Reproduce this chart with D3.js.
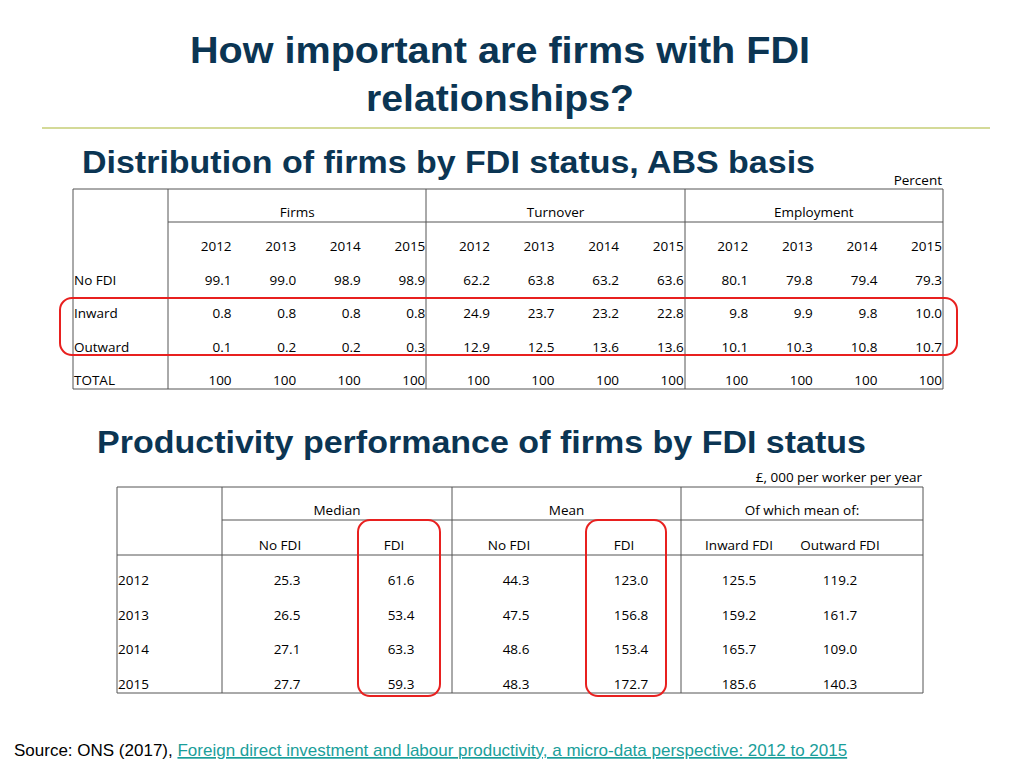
<!DOCTYPE html><html><head><meta charset="utf-8">
<script src="https://cdn.jsdelivr.net/npm/d3@7"></script>
<style>body{margin:0;background:#fff}</style></head><body>
<svg id="c" width="1024" height="768"></svg>
<script>
const years=["2012","2013","2014","2015"];
const groups1=["Firms","Turnover","Employment"];
const rows1=["No FDI","Inward","Outward","TOTAL"];
const firms=[[99.1,99.0,98.9,98.9],[0.8,0.8,0.8,0.8],[0.1,0.2,0.2,0.3],[100,100,100,100]];
const turnover=[[62.2,63.8,63.2,63.6],[24.9,23.7,23.2,22.8],[12.9,12.5,13.6,13.6],[100,100,100,100]];
const employment=[[80.1,79.8,79.4,79.3],[9.8,9.9,9.8,10.0],[10.1,10.3,10.8,10.7],[100,100,100,100]];
const groups2=["Median","Mean","Of which mean of:"];
const sub2=["No FDI","FDI","No FDI","FDI","Inward FDI","Outward FDI"];
const rows2=["2012","2013","2014","2015"];
const prod=[[25.3,61.6,44.3,123.0,125.5,119.2],[26.5,53.4,47.5,156.8,159.2,161.7],[27.1,63.3,48.6,153.4,165.7,109.0],[27.7,59.3,48.3,172.7,185.6,140.3]];

const svg=d3.select("#c");
const navy="#0b3553", F="'Open Sans',sans-serif";
const t=(x,y,s,o={})=>{const e=svg.append("text").attr("x",x).attr("y",y).text(s)
  .attr("font-family",o.f||F).attr("font-size",o.s||13.5).attr("fill",o.c||"#000")
  .attr("font-weight",o.w||"normal").attr("text-anchor",o.a||"start").attr("dominant-baseline","central");
  if(o.tl)e.attr("textLength",o.tl).attr("lengthAdjust","spacingAndGlyphs");return e;};
const L=(x1,y1,x2,y2,c="#555",w=1)=>svg.append("line").attr("x1",x1).attr("y1",y1).attr("x2",x2).attr("y2",y2).attr("stroke",c).attr("stroke-width",w);
const A="Liberation Sans, Arial, sans-serif";
t(500,50,"How important are firms with FDI",{f:A,s:36,w:"bold",c:navy,a:"middle",tl:620});
t(500,98,"relationships?",{f:A,s:36,w:"bold",c:navy,a:"middle",tl:268});
L(42,128,990,128,"#d4da98",2);
t(82,162,"Distribution of firms by FDI status, ABS basis",{f:A,s:31,w:"bold",c:navy,tl:733});
t(942,180,"Percent",{a:"end"});
// table 1
const gx=d3.scaleBand().domain(groups1).range([168,943]);
const ry1=d3.scalePoint().domain(rows1).range([280,380]);
L(73,189,943,189);L(168,222,943,222);L(73,389,943,389);
[73,168,426,685,943].forEach(x=>L(x,189,x,389));
const data1=[firms,turnover,employment];
groups1.forEach((g,gi)=>{const x0=gx(g),w=gx.bandwidth();
  t(x0+w/2,212,g,{a:"middle"});
  const cx=d3.scaleBand().domain(years).range([x0,x0+w]);
  years.forEach((y,yi)=>{const xr=cx(y)+cx.bandwidth()-1;
    t(xr,246,y,{a:"end"});
    rows1.forEach((r,ri)=>{const v=data1[gi][ri][yi];t(xr,ry1(r),r==="TOTAL"?String(v):v.toFixed(1),{a:"end"});});
  });});
rows1.forEach(r=>t(74,ry1(r),r));
svg.append("rect").attr("x",60).attr("y",298).attr("width",897).attr("height",57).attr("rx",12).attr("fill","none").attr("stroke","#e8201f").attr("stroke-width",2);
// table 2
t(97,442,"Productivity performance of firms by FDI status",{f:A,s:31,w:"bold",c:navy,tl:769});
t(922,477,"£, 000 per worker per year",{a:"end"});
L(117,487,923,487);L(222,520,923,520);L(117,555,923,555);L(117,693,923,693);
[117,222,452,681,923].forEach(x=>L(x,487,x,693));
const gb=[[222,452],[452,681],[681,923]];
groups2.forEach((g,i)=>t((gb[i][0]+gb[i][1])/2,510,g,{a:"middle"}));
const scx=[280,394,509,624,739,840];
const ry2=d3.scalePoint().domain(rows2).range([580,684]);
sub2.forEach((s,i)=>t(scx[i],545,s,{a:"middle"}));
rows2.forEach((r,ri)=>{t(118,ry2(r),r);prod[ri].forEach((v,i)=>t(scx[i]+(i>=4?0:7),ry2(r),v.toFixed(1),{a:"middle"}));});
[[358,82],[586,80]].forEach(([x,w])=>svg.append("rect").attr("x",x).attr("y",520).attr("width",w).attr("height",176).attr("rx",12).attr("fill","none").attr("stroke","#e8201f").attr("stroke-width",2));
// source
const s=svg.append("text").attr("x",14).attr("y",756).attr("font-family",A).attr("font-size",17);
s.append("tspan").text("Source: ONS (2017), ");
s.append("tspan").attr("fill","#1a9e9a").attr("text-decoration","underline").text("Foreign direct investment and labour productivity, a micro-data perspective: 2012 to 2015");
</script></body></html>
